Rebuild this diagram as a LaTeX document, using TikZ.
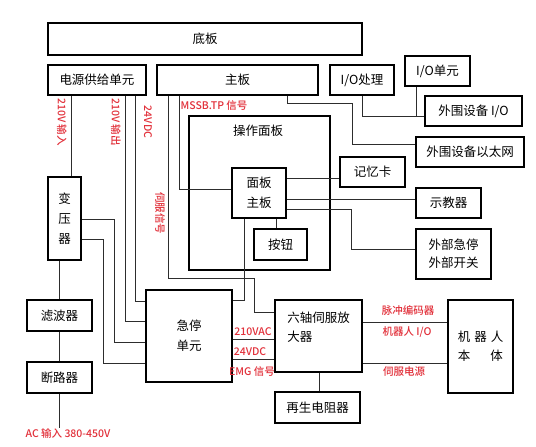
\documentclass[tikz,border=0pt]{standalone}
\usepackage{fontspec}
\setmainfont{Noto Sans CJK SC}
\newfontfamily\lblfont{Noto Sans CJK SC Medium}
\definecolor{lblred}{RGB}{226,48,58}
\definecolor{linegray}{RGB}{45,45,45}
\tikzset{
  box/.style={draw=black, line width=1.5pt, inner sep=0pt, align=center,
    font=\fontsize{12.5}{20}\selectfont},
  txt/.style={inner sep=0pt, align=left, font=\fontsize{12.5}{19}\selectfont},
  conn/.style={draw=linegray, line width=0.9pt},
  lbl/.style={text=lblred, inner sep=0pt, font=\lblfont\fontsize{10.5}{12}\selectfont}
}
\begin{document}
\begin{tikzpicture}[x=1pt,y=-1pt]
\useasboundingbox[fill=white] (0,0) rectangle (536,447);
% boxes
\node[box, minimum width=314pt, minimum height=32pt] (base) at (205,39) {底板};
\node[box, minimum width=98pt, minimum height=30pt] (psu) at (97,80) {电源供给单元};
\node[box, minimum width=161pt, minimum height=30pt] (main) at (237.5,80) {主板};
\node[box, minimum width=64pt, minimum height=30pt] (iop) at (362,80) {I/O处理};
\node[box, minimum width=65pt, minimum height=30pt] (iou) at (437.5,71) {I/O单元};
\node[box, minimum width=97pt, minimum height=30pt] (pio) at (473.5,111) {外围设备 I/O};
\node[box, minimum width=108pt, minimum height=30pt] (eth) at (470,152) {外围设备以太网};
\node[box, minimum width=65pt, minimum height=30pt] (mem) at (372.5,172) {记忆卡};
\node[box, minimum width=65pt, minimum height=30pt] (tp) at (448.5,203) {示教器};
\node[box, minimum width=75pt, minimum height=50pt, font=\fontsize{12.5}{18}\selectfont] (ext) at (453.5,254) {外部急停\\外部开关};
\node[box, minimum width=141pt, minimum height=154pt] (op) at (259.5,193) {};
\node[txt] (opt) at (258,131) {操作面板};
\node[box, minimum width=54pt, minimum height=50pt] (pmb) at (259,193) {面板\\主板};
\node[box, minimum width=53pt, minimum height=31pt] (btn) at (280.5,244.5) {按钮};
\node[box, minimum width=33pt, minimum height=83pt, font=\fontsize{12.5}{20}\selectfont] (tr) at (64.5,218.5) {变\\压\\器};
\node[box, minimum width=65pt, minimum height=31pt] (flt) at (59.5,315.5) {滤波器};
\node[box, minimum width=65pt, minimum height=31pt] (brk) at (59.5,377.5) {断路器};
\node[box, minimum width=86pt, minimum height=92pt] (es) at (189,336) {急停\\单元};
\node[box, minimum width=87pt, minimum height=72pt] (amp) at (318.5,336) {};
\node[txt] (ampt) at (318.5,327.5) {六轴伺服放\\大器};
\node[box, minimum width=85pt, minimum height=31pt] (regen) at (317.5,407.5) {再生电阻器};
\node[box, minimum width=65pt, minimum height=93pt, align=left, font=\fontsize{12.5}{19}\selectfont] (rob) at (480.5,346.5) {机\hspace{4pt}器\hspace{4pt}人\\本\hspace{20pt}体};
% labels
\node[lbl, rotate=-90] (l1) at (62,122) {210V 输入};
\node[lbl, rotate=-90] (l2) at (116,122) {210V 输出};
\node[lbl, rotate=-90] (l3) at (148,122) {24VDC};
\node[lbl, rotate=-90] (l4) at (160,213) {伺服信号};
\node[lbl] (l5) at (214,106) {MSSB.TP 信号};
\node[lbl] (l6) at (253,332) {210VAC};
\node[lbl] (l7) at (250,352) {24VDC};
\node[lbl] (l8) at (252,372) {EMG 信号};
\node[lbl] (l9) at (408,310) {脉冲编码器};
\node[lbl] (l10) at (407,332) {机器人 I/O};
\node[lbl] (l11) at (404,372) {伺服电源};
\node[lbl] (acl) at (68,433) {AC 输入 380-450V};
% connectors
\draw[conn] (psu.south -| 71,0) -- (tr.north -| 71,0);
\draw[conn] (psu.south -| 125,0) |- (es.west |- 0,321);
\draw[conn] (psu.south -| 135,0) |- (es.west |- 0,301);
\draw[conn] (tr.east |- 0,219) -| (114,342) -- (es.west |- 0,342);
\draw[conn] (tr.east |- 0,239) -| (103,363) -- (es.west |- 0,363);
\draw[conn] (tr.south -| flt.north) -- (flt.north);
\draw[conn] (flt.south) -- (brk.north);
\draw[conn] (brk.south) -- (brk.south |- acl.north);
\draw[conn] (main.south -| 168,0) |- (254,278) |- (amp.west |- 0,312);
\draw[conn] (main.south -| 179,0) |- (pmb.west |- 0,189);
\draw[conn] (main.south -| 287,0) -- (287,103) -| (352,144) -- (eth.west |- 0,144);
\draw[conn] (iop.south) |- (pio.west |- 0,116);
\draw[conn] (iou.south -| 416,0) -- (416,116);
\draw[conn] (pmb.east |- 0,178) -- (mem.west |- 0,178);
\draw[conn] (pmb.east |- 0,199) -- (tp.west |- 0,199);
\draw[conn] (pmb.east |- 0,209) -| (351,249) -- (ext.west |- 0,249);
\draw[conn] (pmb.south -| 276,0) -- (btn.north -| 276,0);
\draw[conn] (pmb.south -| 244,0) |- (es.east |- 0,300);
\draw[conn] (es.east |- 0,339) -- (amp.west |- 0,339);
\draw[conn] (es.east |- 0,359) -- (amp.west |- 0,359);
\draw[conn] (amp.east |- 0,322) -- (rob.west |- 0,322);
\draw[conn] (amp.east |- 0,363) -- (rob.west |- 0,363);
\draw[conn] (amp.south -| 319,0) -- (regen.north -| 319,0);
\end{tikzpicture}
\end{document}
